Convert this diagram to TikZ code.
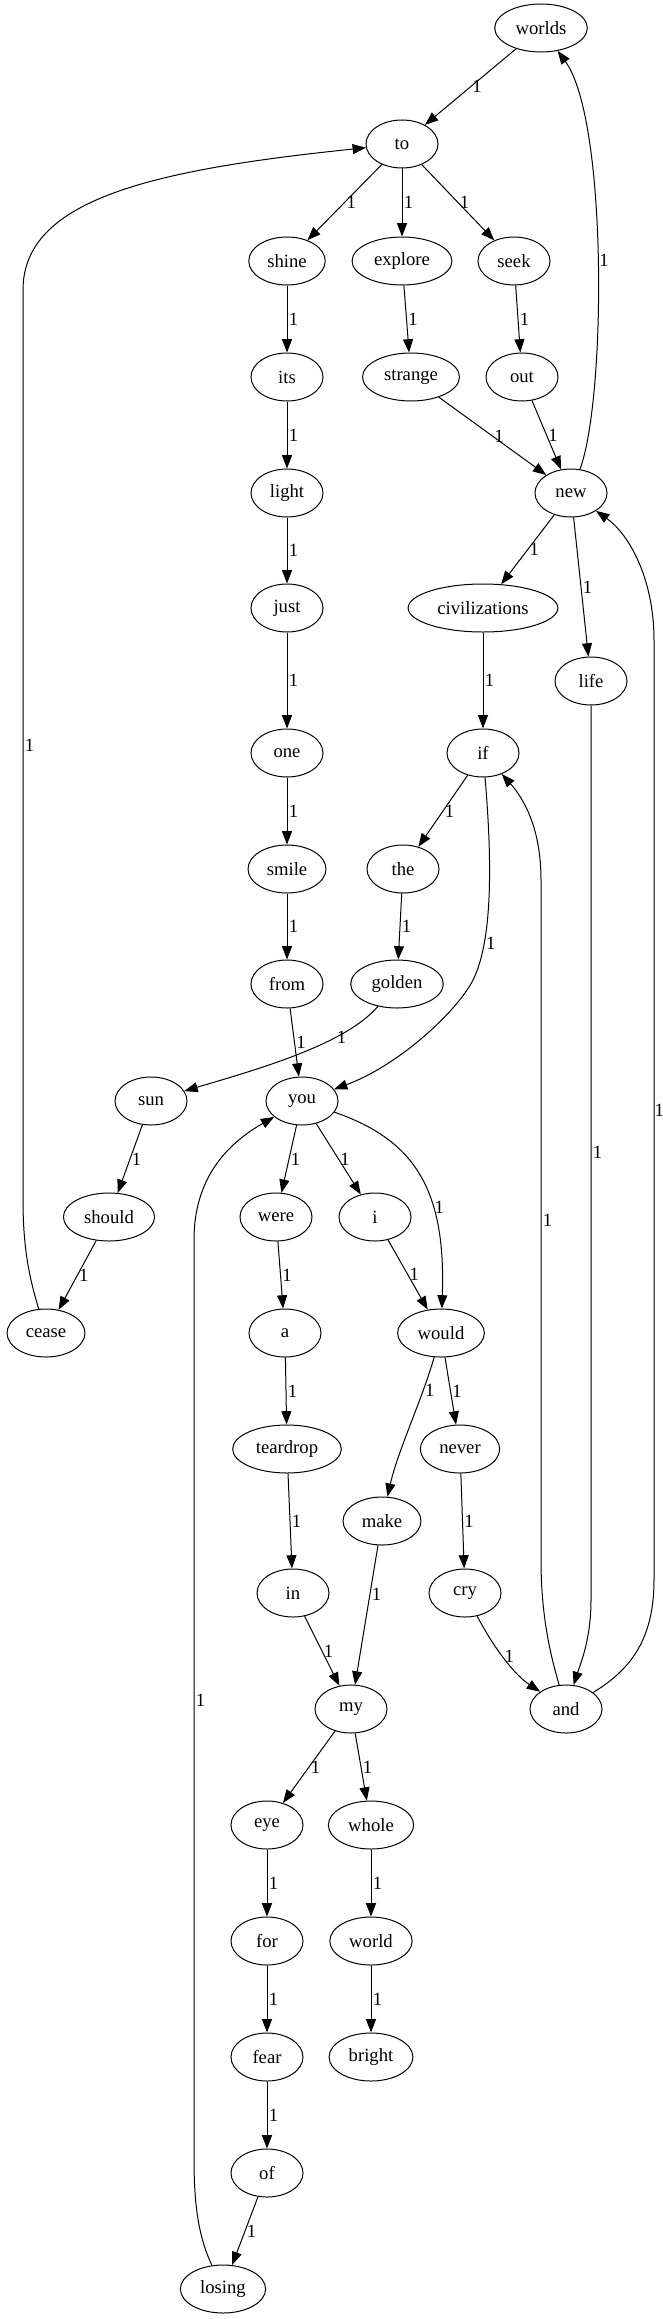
\documentclass[tikz,border=0pt]{standalone}
\usepackage{fontspec}
\setmainfont{Liberation Serif}
\usetikzlibrary{arrows.meta,shapes.geometric}

\begin{document}
\begin{tikzpicture}[x=.75pt, y=-.75pt, line width=.75pt,
    font=\fontsize{14}{16}\selectfont,
    word/.style={draw, ellipse, minimum width=54pt, minimum height=36pt,
      inner xsep=5.5pt, inner ysep=0pt},
    lbl/.style={midway, anchor=west, inner sep=1pt},
    link/.style={-{Triangle[length=10pt, width=7.5pt]}}]
  \useasboundingbox (0,0) rectangle (662,2319);
  % words, top to bottom
  \node [word] at (541,28) (worlds) {worlds};
  \node [word] at (402,144) (to) {to};
  \node [word] at (287,261) (shine) {shine};
  \node [word] at (402,261) (explore) {explore};
  \node [word] at (514,261) (seek) {seek};
  \node [word] at (287,377) (its) {its};
  \node [word] at (411,377) (strange) {strange};
  \node [word] at (522,377) (out) {out};
  \node [word] at (287,493) (light) {light};
  \node [word] at (571,493) (new) {new};
  \node [word] at (287,608) (just) {just};
  \node [word] at (483,608) (civilizations) {civilizations};
  \node [word] at (591,681) (life) {life};
  \node [word] at (287,753) (one) {one};
  \node [word] at (483,753) (if) {if};
  \node [word] at (287,869) (smile) {smile};
  \node [word] at (403,869) (the) {the};
  \node [word] at (287,984) (from) {from};
  \node [word] at (397,984) (golden) {golden};
  \node [word] at (151,1101) (sun) {sun};
  \node [word] at (302,1101) (you) {you};
  \node [word] at (109,1217) (should) {should};
  \node [word] at (276,1217) (were) {were};
  \node [word] at (375,1217) (i) {i};
  \node [word] at (46,1333) (cease) {cease};
  \node [word] at (285,1333) (a) {a};
  \node [word] at (441,1333) (would) {would};
  \node [word] at (287,1449) (teardrop) {teardrop};
  \node [word] at (460,1449) (never) {never};
  \node [word] at (382,1521) (make) {make};
  \node [word] at (293,1593) (in) {in};
  \node [word] at (465,1593) (cry) {cry};
  \node [word] at (351,1709) (my) {my};
  \node [word] at (566,1709) (and) {and};
  \node [word] at (267,1825) (eye) {eye};
  \node [word] at (371,1825) (whole) {whole};
  \node [word] at (267,1941) (for) {for};
  \node [word] at (371,1941) (world) {world};
  \node [word] at (267,2057) (fear) {fear};
  \node [word] at (371,2057) (bright) {bright};
  \node [word] at (267,2173) (of) {of};
  \node [word] at (223,2289) (losing) {losing};
  % straight links
  \draw [link] (worlds) -- node [lbl] {1} (to);
  \draw [link] (to) -- node [lbl] {1} (shine);
  \draw [link] (to) -- node [lbl] {1} (explore);
  \draw [link] (to) -- node [lbl] {1} (seek);
  \draw [link] (shine) -- node [lbl] {1} (its);
  \draw [link] (explore) -- node [lbl] {1} (strange);
  \draw [link] (seek) -- node [lbl] {1} (out);
  \draw [link] (its) -- node [lbl] {1} (light);
  \draw [link] (strange) -- node [lbl] {1} (new);
  \draw [link] (out) -- node [lbl] {1} (new);
  \draw [link] (light) -- node [lbl] {1} (just);
  \draw [link] (new) -- node [lbl] {1} (civilizations);
  \draw [link] (new) -- node [lbl] {1} (life);
  \draw [link] (just) -- node [lbl] {1} (one);
  \draw [link] (civilizations) -- node [lbl] {1} (if);
  \draw [link] (one) -- node [lbl] {1} (smile);
  \draw [link] (if) -- node [lbl] {1} (the);
  \draw [link] (smile) -- node [lbl] {1} (from);
  \draw [link] (the) -- node [lbl] {1} (golden);
  \draw [link] (from) -- node [lbl] {1} (you);
  \draw [link] (sun) -- node [lbl] {1} (should);
  \draw [link] (should) -- node [lbl] {1} (cease);
  \draw [link] (you) -- node [lbl] {1} (were);
  \draw [link] (you) -- node [lbl] {1} (i);
  \draw [link] (were) -- node [lbl] {1} (a);
  \draw [link] (i) -- node [lbl] {1} (would);
  \draw [link] (a) -- node [lbl] {1} (teardrop);
  \draw [link] (would) -- node [lbl] {1} (never);
  \draw [link] (teardrop) -- node [lbl] {1} (in);
  \draw [link] (never) -- node [lbl] {1} (cry);
  \draw [link] (make) -- node [lbl, pos=.35] {1} (my);
  \draw [link] (in) -- node [lbl] {1} (my);
  \draw [link] (my) -- node [lbl] {1} (eye);
  \draw [link] (my) -- node [lbl] {1} (whole);
  \draw [link] (eye) -- node [lbl] {1} (for);
  \draw [link] (whole) -- node [lbl] {1} (world);
  \draw [link] (for) -- node [lbl] {1} (fear);
  \draw [link] (world) -- node [lbl] {1} (bright);
  \draw [link] (fear) -- node [lbl] {1} (of);
  \draw [link] (of) -- node [lbl] {1} (losing);
  % curved links
  \draw [link] (new) .. controls (606,400) and (608,120) .. node [lbl] {1} (worlds);
  \draw [link] (golden) .. controls (345,1045) and (255,1070) .. node [lbl, pos=.3] {1} (sun);
  \draw [link] (if) .. controls (492,860) and (493,940) .. node [lbl, pos=.75] {1} (473,980)
    .. controls (458,1010) and (400,1065) .. (you);
  \draw [link] (you) .. controls (415,1140) and (446,1190) .. node [lbl, pos=.65] {1} (would);
  \draw [link] (would) .. controls (422,1400) and (398,1450) .. node [lbl, pos=.25] {1} (make);
  \draw [link] (cry) .. controls (495,1650) and (515,1675) .. node [lbl, pos=.45] {1} (and);
  \draw [link] (life) -- node [lbl] {1} (591,1600) .. controls (591,1640) and (580,1665) .. (and);
  \draw [link] (and) .. controls (630,1670) and (654,1640) .. (654,1580)
    -- node [lbl, inner sep=0pt] {1} (654,640) .. controls (654,580) and (630,535) .. (new);
  \draw [link] (and) .. controls (552,1660) and (541,1620) .. (541,1560)
    -- node [lbl] {1} (541,880) .. controls (541,830) and (525,800) .. (if);
  \draw [link] (losing) .. controls (200,2240) and (194,2210) .. (194,2160)
    -- node [lbl] {1} (194,1240) .. controls (194,1180) and (225,1145) .. (you);
  \draw [link] (cease) .. controls (30,1280) and (23,1250) .. (23,1200)
    -- node [lbl] {1} (23,290) .. controls (23,200) and (150,170) .. (to);
\end{tikzpicture}
\end{document}
